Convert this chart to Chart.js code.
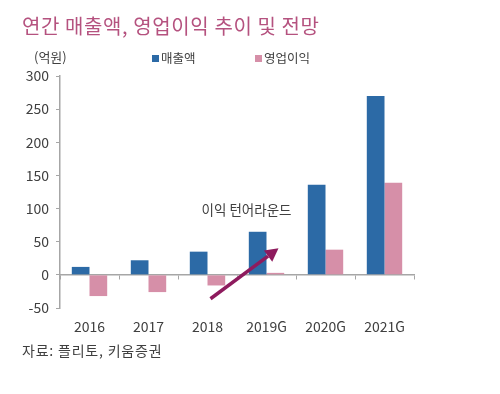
<!DOCTYPE html>
<html><head><meta charset="utf-8">
<script src="https://cdn.jsdelivr.net/npm/chart.js@4/dist/chart.umd.min.js"></script>
<style>
html,body{margin:0;padding:0;background:#fff;}
#wrap{position:relative;width:500px;height:394px;overflow:hidden;font-family:"Noto Sans CJK KR","Noto Sans",sans-serif;}
canvas{position:absolute;left:0;top:0;}
.t{position:absolute;white-space:nowrap;}
#title{left:22px;top:11px;font-size:20px;letter-spacing:0.6px;color:#b5527f;}
#unit{left:34px;top:47px;font-size:13px;color:#404040;}
.lg{top:48px;font-size:12.5px;color:#404040;}
.sq{display:inline-block;width:7px;height:7px;margin-right:2px;vertical-align:1px;}
#src{left:22px;top:340px;font-size:14px;letter-spacing:0.8px;color:#404040;}
</style></head>
<body><div id="wrap">
<canvas id="c" width="500" height="394"></canvas>
<div class="t" id="title">연간 매출액, 영업이익 추이 및 전망</div>
<div class="t" id="unit">(억원)</div>
<div class="t lg" id="lg1" style="left:152px"><span class="sq" style="background:#2c6aa6"></span>매출액</div>
<div class="t lg" id="lg2" style="left:255px"><span class="sq" style="background:#d68fa8"></span>영업이익</div>
<div class="t" id="src">자료: 플리토, 키움증권</div>
</div>
<script>
const categories = ['2016','2017','2018','2019G','2020G','2021G'];
const revenue = [12, 22, 35, 65, 136, 270];
const operatingProfit = [-32, -26, -16, 3, 38, 139];
const seriesNames = ['매출액','영업이익'];
const annotationText = '이익 턴어라운드';

const annoPlugin = {
  id:'anno',
  afterDatasetsDraw(chart){
    const {ctx, scales:{x,y}} = chart;
    ctx.save();
    ctx.font = '13.5px "Noto Sans CJK KR"';
    ctx.fillStyle = '#404040';
    ctx.textAlign = 'center';
    ctx.textBaseline = 'middle';
    ctx.fillText(annotationText, x.getPixelForValue(3) - 20, y.getPixelForValue(98));
    const x1 = x.getPixelForValue(2) + 3, y1 = y.getPixelForValue(-36);
    const x2 = x.getPixelForValue(3) + 12, y2 = y.getPixelForValue(40);
    const col = '#8e1b5e';
    const ang = Math.atan2(y2 - y1, x2 - x1);
    const hl = 13;
    const bx = x2 - hl*Math.cos(ang), by = y2 - hl*Math.sin(ang);
    ctx.strokeStyle = col; ctx.lineWidth = 3.5; ctx.lineCap='butt';
    ctx.beginPath(); ctx.moveTo(x1,y1); ctx.lineTo(bx,by); ctx.stroke();
    ctx.fillStyle = col;
    ctx.beginPath();
    ctx.moveTo(x2,y2);
    ctx.lineTo(bx + 7*Math.sin(ang), by - 7*Math.cos(ang));
    ctx.lineTo(bx - 7*Math.sin(ang), by + 7*Math.cos(ang));
    ctx.closePath(); ctx.fill();
    ctx.restore();
  }
};

new Chart(document.getElementById('c'), {
  type:'bar',
  data:{
    labels: categories,
    datasets:[
      {label:seriesNames[0], data:revenue, backgroundColor:'#2c6aa6', xAxisID:'x'},
      {label:seriesNames[1], data:operatingProfit, backgroundColor:'#d68fa8', xAxisID:'x'}
    ]
  },
  options:{
    responsive:false, animation:false,
    devicePixelRatio:1,
    categoryPercentage:0.6, barPercentage:1.0,
    layout:{padding:{left:22,right:86,top:76,bottom:58}},
    plugins:{legend:{display:false}, tooltip:{enabled:false}},
    scales:{
      x:{
        position:'bottom', offset:true,
        grid:{display:false}, border:{display:false},
        ticks:{color:'#404040', font:{size:14, family:'"Noto Sans CJK KR"'}, padding:2},
        afterFit(s){ s.height = 28; }
      },
      x0:{
        type:'category', position:{y:0}, offset:true,
        grid:{display:true, offset:true, drawOnChartArea:false, drawTicks:true, tickLength:4, color:'#a6a6a6'},
        border:{display:true, color:'#a6a6a6', width:1.5},
        ticks:{display:false}
      },
      y:{
        min:-50, max:300,
        ticks:{stepSize:50, color:'#404040', font:{size:14, family:'"Noto Sans CJK KR"'}, padding:7},
        grid:{display:true, drawOnChartArea:false, drawTicks:true, tickLength:4, color:'#a6a6a6'},
        border:{display:true, color:'#a6a6a6', width:1.5},
        afterFit(s){ s.width = 38; }
      }
    }
  },
  plugins:[annoPlugin]
});
</script>
</body></html>
